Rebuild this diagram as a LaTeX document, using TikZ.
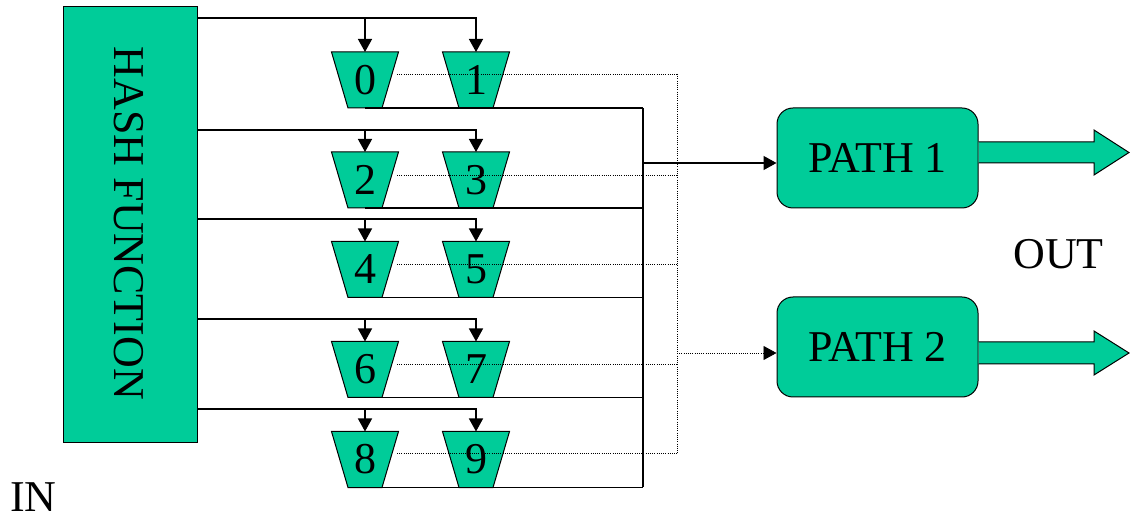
\documentclass[tikz,border=0pt]{standalone}
\usepackage{fontspec}
\setmainfont{Liberation Serif}
\usetikzlibrary{arrows.meta,backgrounds}
\definecolor{tealg}{HTML}{00CC99}
\tikzset{
  big/.style={font=\fontsize{44}{50}\selectfont},
  trapbox/.style={minimum width=67pt, minimum height=56pt, inner sep=0pt, outer sep=0pt, big},
  trapline/.style={draw, line width=1pt, fill=tealg},
  conn/.style={line width=1.4pt, -{Triangle[length=13pt,width=14pt]}},
  wire/.style={line width=1.4pt},
  dotw/.style={line width=0.8pt, dash pattern=on 1pt off 1.2pt},
  box/.style={draw, line width=1pt, fill=tealg, big}
}
\newcommand{\trapshape}[1]{%
  \begin{pgfonlayer}{background}
  \path[trapline] (#1.north west) -- (#1.north east) -- ([xshift=-16.5pt]#1.south east)
     -- ([xshift=16.5pt]#1.south west) -- cycle;
  \end{pgfonlayer}}
\begin{document}
\begin{tikzpicture}[x=1pt,y=-1pt]
\useasboundingbox (0,0) rectangle (1130,518);
\begin{pgfonlayer}{background}
\fill[white] (0,0) rectangle (1130,518);
\end{pgfonlayer}
\node[box, minimum width=134pt, minimum height=435pt, inner sep=0pt] (hash) at (130,224.5) {};
\node[big, rotate=-90] (hashtxt) at (128.5,223.5) {HASH FUNCTION};
\node[box, rounded corners=16pt, minimum width=201pt, minimum height=100pt] (p1) at (877.5,158) {PATH 1};
\node[box, rounded corners=16pt, minimum width=201pt, minimum height=100pt] (p2) at (877.5,347) {PATH 2};
\node[big, inner sep=0pt] (out) at (1058.5,254) {OUT};
\node[big, inner sep=0pt] (in) at (33.5,497) {IN};
\coordinate (bus) at (643,108);
\coordinate (busb) at (643,487);
\coordinate (dbus) at (677,74);
\coordinate (dbusb) at (677,453);
\foreach \a/\b/\F/\D/\C in {0/1/18/74/80, 2/3/130/175/180, 4/5/219/264/269.5, 6/7/319/364/369.5, 8/9/409/453/459.5}{
  \node[trapbox] (t\a) at (365,\C) {\a};
  \node[trapbox] (t\b) at (476,\C) {\b};
  \trapshape{t\a}
  \trapshape{t\b}
  \draw[conn] (hash.east |- 0,\F) -| (t\b.north);
  \draw[conn] (t\a.north |- 0,\F) -- (t\a.north);
  \draw[wire] (t\a.south) -- (t\a.south -| bus);
  \draw[dotw] (397,\D) coordinate (ds\a) -- (ds\a -| dbus);
}
\draw[wire] (bus) -- (busb);
\draw[dotw] (dbus) -- (dbusb);
\draw[conn] (bus |- 0,163) -- (p1.west |- 0,163);
\draw[dotw, -{Triangle[length=13pt,width=14pt]}] (dbus |- 0,353) -- (p2.west |- 0,353);
\draw[line width=1pt, fill=tealg] (p1.east |- 0,142) -- (1094,142) -- (1094,130) -- (1129,152.5) -- (1094,175) -- (1094,163) -- (p1.east |- 0,163);
\draw[line width=1pt, fill=tealg] (p2.east |- 0,342) -- (1094,342) -- (1094,331) -- (1129,353) -- (1094,375) -- (1094,364) -- (p2.east |- 0,364);
\end{tikzpicture}
\end{document}
